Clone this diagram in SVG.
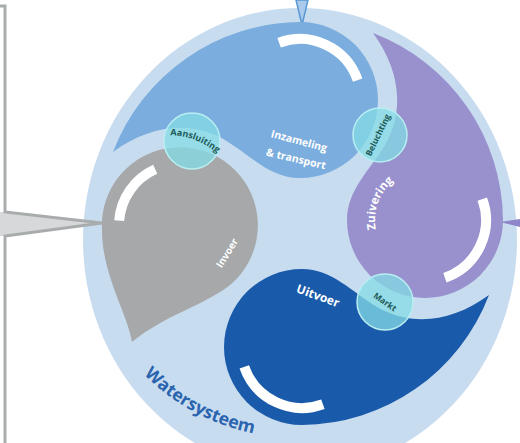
<svg xmlns="http://www.w3.org/2000/svg" width="520" height="443" viewBox="0 0 520 443">
<defs>
<style>
.lbl{font-family:"Open Sans","DejaVu Sans",sans-serif;font-weight:700;fill:#ffffff}
.conn{font-family:"Open Sans","DejaVu Sans",sans-serif;font-weight:700;fill:#1d5a57;font-size:8px}
.arc{fill:none;stroke:#ffffff;stroke-width:10}
.link{fill:#84dce6;fill-opacity:0.75;stroke:#b8eef2;stroke-width:1.5}
</style>
<path id="drop" d="M -187,52 A 202 202 0 0 1 0,-78 A 78 78 0 0 1 0,78 C -30,78 -50,55 -75,40 C -110,20 -150,25 -187,52 Z"/>
<path id="warc" d="M -20.9,-57.3 A 61 61 0 0 1 57.7,-19.9"/>
<path id="wpath" d="M 122.9,350.3 A 215 215 0 0 0 285.3,437.2"/>
<path id="zpath" d="M 381.7,245 A 50 50 0 0 1 407.9,173"/>
<path id="apath" d="M 160,136 Q 195,131 225,160"/>
</defs>
<rect width="520" height="443" fill="#ffffff"/>
<g id="watersysteem">
<ellipse cx="300" cy="240" rx="217" ry="232" fill="#c8dcf0"/>
<text class="lbl" style="font-size:17.5px;fill:#2a64ae"><textPath href="#wpath" startOffset="50%" text-anchor="middle">Watersysteem</textPath></text>
</g>
<g id="connectors">
<path d="M 0,236 L 5,236 L 102,223 L 5,212 L 0,212 Z" fill="#d6d8d9"/>
<polyline points="0,6 5,6 5,212 102,223 5,236 5,443" fill="none" stroke="#a9acad" stroke-width="3"/>
<polygon points="296,0 308,0 302,25" fill="#a9caea" stroke="#5a98d3" stroke-width="1.5"/>
<polygon points="500,222 520,219 520,227" fill="#8e86c8"/>
</g>
<g id="invoer">
<path d="M 132,342 C 128,315 102,275 102,230 A 78 78 0 1 1 230,285 C 205,305 165,315 132,342 Z" fill="#a6a8aa"/>
<path class="arc" d="M 119.2,220.7 A 61 61 0 0 1 155.2,169.3"/>
<text class="lbl" style="font-size:10px" transform="translate(227,253) rotate(-58)" x="0" y="3.5" text-anchor="middle">Invoer</text>
</g>
<g id="inzameling">
<use href="#drop" transform="translate(300,100)" fill="#7badde"/>
<use href="#warc" class="arc" transform="translate(300,100)"/>
<text class="lbl" style="font-size:10.5px" transform="translate(299,141) rotate(15)" x="0" y="3.5" text-anchor="middle">Inzameling</text>
<text class="lbl" style="font-size:10.5px" transform="translate(296,159) rotate(13)" x="0" y="3.5" text-anchor="middle">&amp; transport</text>
</g>
<g id="zuivering">
<use href="#drop" transform="translate(425,220) rotate(90)" fill="#9891cd"/>
<use href="#warc" class="arc" transform="translate(425,220) rotate(90)"/>
<text class="lbl" style="font-size:11.5px"><textPath href="#zpath" startOffset="50%" text-anchor="middle">Zuivering</textPath></text>
</g>
<g id="uitvoer">
<use href="#drop" transform="translate(302,347) rotate(180)" fill="#1a5aaa"/>
<use href="#warc" class="arc" transform="translate(302,347) rotate(180)"/>
<text class="lbl" style="font-size:12px" transform="translate(318,296) rotate(20)" x="0" y="4" text-anchor="middle">Uitvoer</text>
</g>
<g id="aansluiting">
<circle class="link" cx="192" cy="141" r="28"/>
<text class="conn" style="font-size:9px"><textPath href="#apath" startOffset="50%" text-anchor="middle">Aansluiting</textPath></text>
</g>
<g id="beluchting">
<circle class="link" cx="380" cy="135" r="27"/>
<text class="conn" style="font-size:8.5px" transform="translate(378,135) rotate(-64)" x="0" y="3" text-anchor="middle">Beluchting</text>
</g>
<g id="markt">
<circle class="link" cx="385" cy="302" r="28"/>
<text class="conn" style="font-size:8.5px" transform="translate(385,302) rotate(35)" x="0" y="3" text-anchor="middle">Markt</text>
</g>
</svg>
